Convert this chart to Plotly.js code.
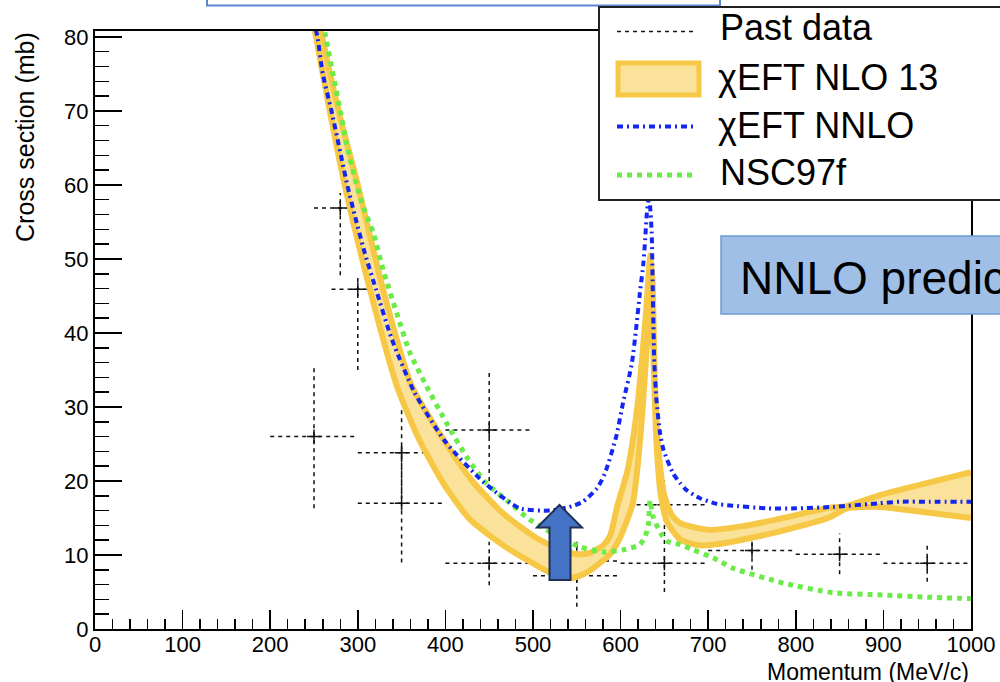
<!DOCTYPE html>
<html><head><meta charset="utf-8">
<script src="https://cdn.plot.ly/plotly-3.0.1.min.js"></script>
<style>html,body{margin:0;padding:0;background:#fff;} #chart{width:1000px;height:682px;}</style>
</head><body><div id="chart"></div>
<script>
// ---- Past data (momentum, cross section, errors) ----
const pastX      = [250, 280, 300, 350, 350, 450, 450, 550, 550, 650, 650, 750, 850, 950];
const pastY      = [26.0, 56.9, 45.9, 23.8, 17.0, 26.9, 8.9, 9.2, 7.2, 16.8, 8.9, 10.6, 10.1, 8.9];
const pastXErr   = [50, 30, 30, 50, 50, 50, 50, 50, 50, 50, 50, 50, 50, 50];
const pastYErrUp = [9.6, 2.0, 1.7, 5.9, 8.0, 8.0, 2.9, 2.5, 4.6, 3.3, 4.2, 2.8, 2.8, 2.6];
const pastYErrDn = [9.7, 9.1, 10.9, 5.6, 8.0, 8.0, 3.0, 2.5, 4.2, 3.3, 3.9, 2.6, 2.7, 2.5];

// ---- chiEFT NLO 13 band: lower and upper edges ----
const nloLowX = [249, 251, 268, 285, 314, 345, 370, 398, 428, 466, 504, 527, 545, 561, 588, 600, 614, 619, 625, 631, 635, 638, 641, 646, 653, 668, 690, 706, 740, 782, 839, 858, 896, 953, 1000];
const nloLowY = [82, 80.8, 70, 60, 45.8, 32.7, 25.6, 19.6, 14.8, 11.3, 8.6, 7.2, 6.9, 7.6, 10.1, 12.5, 17.0, 21.5, 29.6, 40, 46, 35, 25, 18, 14.5, 12.1, 11.3, 11.4, 12.1, 13.2, 15.1, 16.3, 16.5, 15.7, 15.0];
const nloUpX  = [256, 258, 278, 300, 329, 361, 400, 430, 466, 504, 527, 550, 565, 580, 588, 596, 608, 618.7, 629, 634, 636.5, 638.5, 641, 645, 650, 658, 668, 700, 740, 782, 839, 858, 896, 953, 1000];
const nloUpY  = [82, 80.8, 70, 60, 45.8, 33.0, 25.2, 20.1, 15.6, 12.3, 11.0, 10.1, 10.3, 11.3, 12.6, 16.5, 21.5, 29.6, 42.7, 50.5, 47, 36, 28, 22, 18, 15.5, 14.3, 13.4, 13.9, 14.9, 16.4, 16.6, 18.1, 19.8, 21.2];

// ---- chiEFT NNLO ----
const nnloX = [252, 254, 260, 270, 288, 297, 308, 321, 339, 365, 400, 443, 485, 519, 545, 557, 573, 582, 595, 603, 612.6, 618, 622, 626, 628, 630, 632.5, 635.5, 636.5, 637.5, 638.5, 641, 645, 649, 660, 668, 675, 690, 710, 725, 767, 800, 843, 896, 919, 953, 1000];
const nnloY = [81, 80, 75, 70, 60, 55.7, 50.8, 45.8, 39.1, 31.9, 25.3, 19.9, 16.3, 16.0, 16.6, 17.2, 19.0, 21.0, 26, 30.7, 35.7, 40.9, 45.4, 49.4, 52.6, 56.2, 58.5, 53.5, 47.2, 40.9, 35.9, 30.9, 26.5, 24.2, 21.0, 19.7, 18.8, 17.7, 16.9, 16.7, 16.3, 16.3, 16.5, 17.0, 17.2, 17.2, 17.2];

// ---- NSC97f ----
const nscX = [261, 262.6, 280, 287, 297, 306, 317.7, 329, 344.4, 359.6, 376.7, 401.5, 424, 445, 473.7, 496, 523, 553.7, 580, 603, 622, 628, 631.7, 633.6, 637, 647, 654, 668, 683, 706, 729, 786, 843, 900, 950, 1000];
const nscY = [82, 80.5, 70, 65.6, 60.7, 57.1, 53.5, 48.5, 42.7, 37.3, 33.2, 27.8, 23.3, 19.9, 17.0, 14.8, 12.9, 11.1, 10.4, 10.7, 11.4, 12.5, 14.1, 17.4, 15.2, 12.7, 11.8, 11.4, 10.7, 9.6, 8.2, 6.2, 4.9, 4.6, 4.3, 4.1];

// ---- axis ticks ----
const xTicks = [0, 100, 200, 300, 400, 500, 600, 700, 800, 900, 1000];
const yTicks = [0, 10, 20, 30, 40, 50, 60, 70, 80];

const legendLabels = ['Past data', '\u03c7EFT NLO 13', '\u03c7EFT NNLO', 'NSC97f'];
const xTitle = 'Momentum (MeV/c)';
const yTitle = 'Cross section (mb)';
const noteText = 'NNLO prediction';

// ---- styles ----
const FONT = '"Liberation Sans", Arial, Helvetica, sans-serif';
const YEL = '#f7c846', YELFILL = '#fae29a', BLUE = '#1426f2', GREEN = '#6beb48';

// build the dashed error crosses from the data arrays
const crossX = [], crossY = [];
for (let i = 0; i < pastX.length; i++) {
  crossX.push(pastX[i] - pastXErr[i], pastX[i] + pastXErr[i], null);
  crossY.push(pastY[i], pastY[i], null);
  crossX.push(pastX[i], pastX[i], null);
  crossY.push(pastY[i] - pastYErrDn[i], pastY[i] + pastYErrUp[i], null);
}

const traces = [
  {x: crossX, y: crossY, mode: 'lines', line: {color: '#111', width: 1.5, dash: '4px,4px'}, hoverinfo: 'skip'},
  {x: pastX, y: pastY, mode: 'markers', marker: {symbol: 'cross-thin', size: 10, line: {color: '#111', width: 1.5}}},
  {x: nloLowX, y: nloLowY, mode: 'lines', line: {color: YEL, width: 6, shape: 'spline', smoothing: 0.6}},
  {x: nloUpX, y: nloUpY, mode: 'lines', fill: 'tonexty', fillcolor: YELFILL, line: {color: YEL, width: 6, shape: 'spline', smoothing: 0.6}},
  {x: nscX, y: nscY, mode: 'lines', line: {color: GREEN, width: 5, dash: '5px,5px', shape: 'spline', smoothing: 0.6}},
  {x: nnloX, y: nnloY, mode: 'lines', line: {color: BLUE, width: 4, dash: '6px,4px,2px,4px', shape: 'spline', smoothing: 0.6}}
];

// pixel -> paper helpers for decorations
const PL = 95, PR = 971, PT = 31, PB = 629;
const px = v => (v - PL) / (PR - PL);
const py = v => (PB - v) / (PB - PT);
function pathOf(pts) { return 'M' + pts.map(p => px(p[0]).toFixed(5) + ',' + py(p[1]).toFixed(5)).join('L') + 'Z'; }

const shapes = [
  // top blue outlined box
  {type: 'rect', xref: 'paper', yref: 'paper', x0: px(207), x1: px(720), y0: py(5.5), y1: py(-10), fillcolor: '#ffffff', line: {color: '#5a86d4', width: 2}, layer: 'above'},
  // legend box
  {type: 'rect', xref: 'paper', yref: 'paper', x0: px(599), x1: px(1010), y0: py(200), y1: py(7), fillcolor: '#ffffff', line: {color: '#222', width: 2}, layer: 'above'},
  {type: 'line', xref: 'paper', yref: 'paper', x0: px(617), x1: px(697), y0: py(31.5), y1: py(31.5), line: {color: '#111', width: 1.5, dash: '4px,4px'}, layer: 'above'},
  {type: 'rect', xref: 'paper', yref: 'paper', x0: px(618), x1: px(699), y0: py(95), y1: py(63), fillcolor: YELFILL, line: {color: YEL, width: 5}, layer: 'above'},
  {type: 'line', xref: 'paper', yref: 'paper', x0: px(617), x1: px(697), y0: py(126.5), y1: py(126.5), line: {color: BLUE, width: 4, dash: '6px,4px,2px,4px'}, layer: 'above'},
  {type: 'line', xref: 'paper', yref: 'paper', x0: px(617), x1: px(697), y0: py(175), y1: py(175), line: {color: GREEN, width: 5, dash: '5px,5px'}, layer: 'above'},
  // NNLO prediction box
  {type: 'rect', xref: 'paper', yref: 'paper', x0: px(721), x1: px(1010), y0: py(314), y1: py(236), fillcolor: '#a0bfe6', line: {color: '#6d9ad3', width: 1.5}, layer: 'above'},
  // arrow
  {type: 'path', xref: 'paper', yref: 'paper', layer: 'above',
   path: pathOf([[559.5, 505], [582, 527.5], [570.5, 527.5], [570.5, 580], [549.5, 580], [549.5, 527.5], [537, 527.5]]),
   fillcolor: '#4472c4', line: {color: '#1f2f55', width: 2}}
];

const annotations = [
  {xref: 'paper', yref: 'paper', x: px(718), y: py(28), xanchor: 'left', yanchor: 'middle', showarrow: false, text: legendLabels[0], font: {family: FONT, size: 36, color: '#000'}},
  {xref: 'paper', yref: 'paper', x: px(716), y: py(78), xanchor: 'left', yanchor: 'middle', showarrow: false, text: legendLabels[1], font: {family: FONT, size: 36, color: '#000'}},
  {xref: 'paper', yref: 'paper', x: px(716), y: py(125), xanchor: 'left', yanchor: 'middle', showarrow: false, text: legendLabels[2], font: {family: FONT, size: 36, color: '#000'}},
  {xref: 'paper', yref: 'paper', x: px(718), y: py(173), xanchor: 'left', yanchor: 'middle', showarrow: false, text: legendLabels[3], font: {family: FONT, size: 36, color: '#000'}},
  {xref: 'paper', yref: 'paper', x: px(738), y: py(278), xanchor: 'left', yanchor: 'middle', showarrow: false, text: noteText, font: {family: FONT, size: 46, color: '#000'}},
  {xref: 'paper', yref: 'paper', x: px(971), y: py(672), xanchor: 'right', yanchor: 'middle', showarrow: false, text: xTitle, font: {family: FONT, size: 23, color: '#000'}},
  {xref: 'paper', yref: 'paper', x: px(25), y: py(137), xanchor: 'center', yanchor: 'middle', textangle: -90, showarrow: false, text: yTitle, font: {family: FONT, size: 25, color: '#000'}}
];

const axisCommon = {showgrid: false, zeroline: false, showline: true, linecolor: '#000', linewidth: 2, mirror: true,
  ticks: 'inside', tickcolor: '#000', tickwidth: 1.5, tickfont: {family: FONT, size: 22, color: '#000'}};

const layout = {
  width: 1000, height: 682, paper_bgcolor: '#fff', plot_bgcolor: '#fff', showlegend: false,
  margin: {l: PL, r: 1000 - PR, t: PT, b: 682 - PB, pad: 0},
  xaxis: Object.assign({}, axisCommon, {range: [0, 1000], tickvals: xTicks, ticktext: xTicks.map(String), ticklen: 19, ticklabelstandoff: -5,
    minor: {tick0: 0, dtick: 20, ticks: 'inside', ticklen: 10, tickwidth: 1.5, tickcolor: '#000'}}),
  yaxis: Object.assign({}, axisCommon, {range: [0, 80.8], tickvals: yTicks, ticktext: yTicks.map(String), ticklen: 27,
    minor: {tick0: 0, dtick: 2, ticks: 'inside', ticklen: 14, tickwidth: 1.5, tickcolor: '#000'}}),
  shapes: shapes, annotations: annotations
};

Plotly.newPlot('chart', traces, layout, {staticPlot: true, displayModeBar: false});
</script></body></html>
